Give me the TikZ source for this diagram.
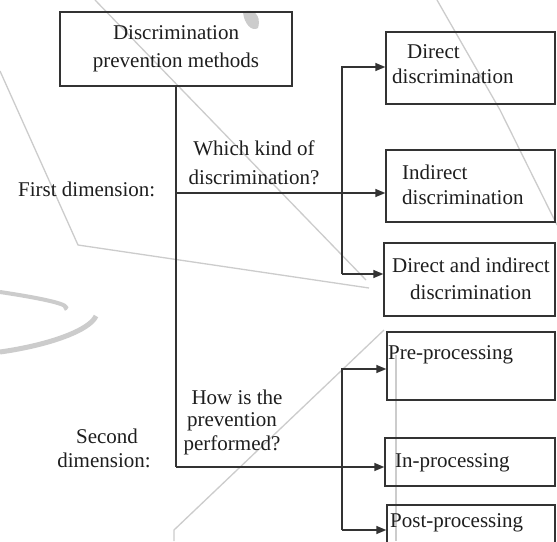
\documentclass[tikz,border=0pt]{standalone}
\usepackage{fontspec}
\setmainfont{Liberation Serif}
\usetikzlibrary{arrows.meta}
\definecolor{linec}{HTML}{333333}
\definecolor{textc}{HTML}{1E1E1E}
\definecolor{wmark}{HTML}{CCCCCC}
\begin{document}
\begin{tikzpicture}[x=1pt,y=-1pt,
  box/.style={draw=linec, line width=1.4pt, inner sep=0pt},
  txt/.style={inner sep=0pt, text=textc, font=\fontsize{21}{28}\selectfont},
  arr/.style={draw=linec, line width=1.4pt, -{Triangle[length=10pt,width=8pt]}},
  conn/.style={draw=linec, line width=1.4pt},
  wm/.style={draw=wmark, line width=1.3pt}
]
\useasboundingbox (0,0) rectangle (557,541);
\clip (0,0) rectangle (557,541);
\fill[white] (0,0) rectangle (557,541);

% faint watermark strokes
\draw[wm] (0,71) -- (78,245) -- (369,288);
\draw[wm] (95,0) -- (366,280);
\draw[wm] (437,0) -- (500,110) -- (557,225);
\draw[wm] (384,330) -- (174,530) -- (174,541);
\draw[wm] (396,355) -- (396,541);
\draw[draw=wmark, line width=4pt] (0,292) .. controls (40,298) and (75,305) .. (64,309);
\draw[draw=wmark, line width=5pt] (0,352) .. controls (50,345) and (90,330) .. (96,316);
\fill[wmark] (243,12) .. controls (252,8) and (262,14) .. (258,28) .. controls (252,32) and (244,24) .. cycle;

% boxes
\node[box, txt, minimum width=232pt, minimum height=74pt, align=center] (top) at (176,49) {Discrimination\\prevention methods};
\node[box, minimum width=169pt, minimum height=72pt] (direct) at (470.5,68) {};
\node[box, minimum width=169pt, minimum height=72pt] (indirect) at (470.5,186) {};
\node[box, minimum width=171pt, minimum height=73pt] (dandi) at (469.5,279.5) {};
\node[box, minimum width=168pt, minimum height=68pt] (pre) at (471,366) {};
\node[box, minimum width=170pt, minimum height=48pt] (inp) at (470,462) {};
\node[box, minimum width=168pt, minimum height=50pt] (post) at (471,530) {};

% box texts
\node[txt, anchor=west] (t1a) at (407,52) {Direct};
\node[txt, anchor=west] (t1b) at (392,76) {discrimination};
\node[txt, anchor=west] (t2a) at (402,172) {Indirect};
\node[txt, anchor=west] (t2b) at (402,197) {discrimination};
\node[txt, anchor=west] (t3a) at (392,265) {Direct and indirect};
\node[txt, anchor=west] (t3b) at (410,292) {discrimination};
\node[txt, anchor=west] (t4) at (388,355) {Pre-processing};
\node[txt, anchor=west] (t5) at (395,463) {In-processing};
\node[txt, anchor=west] (t6) at (390,523) {Post-processing};

% side labels
\node[txt, anchor=west] (fd) at (18,189) {First dimension:};
\node[txt] (q1a) at (254,148) {Which kind of};
\node[txt] (q1b) at (254,177) {discrimination?};
\node[txt] (q2a) at (237,397) {How is the};
\node[txt] (q2b) at (232,422) {prevention};
\node[txt] (q2c) at (232,445) {performed?};
\node[txt] (sd1) at (107,436) {Second};
\node[txt] (sd2) at (104,460) {dimension:};

% connectors
\coordinate (j1) at (top.south |- 0,193);
\coordinate (j2) at (top.south |- 0,467);
\coordinate (b1t) at (342,67);
\coordinate (b1b) at (342,274);
\coordinate (b2t) at (342,369);
\coordinate (b2b) at (342,530);
\draw[conn] (top.south) -- (j2);
\draw[arr] (j1) -- (j1 -| indirect.west);
\draw[arr] (j2) -- (j2 -| inp.west);
\draw[arr] (b1b) -- (b1t) -- (b1t -| direct.west);
\draw[arr] (b1b) -- (b1b -| dandi.west);
\draw[arr] (b2b) -- (b2t) -- (b2t -| pre.west);
\draw[arr] (b2b) -- (b2b -| post.west);
\end{tikzpicture}
\end{document}
